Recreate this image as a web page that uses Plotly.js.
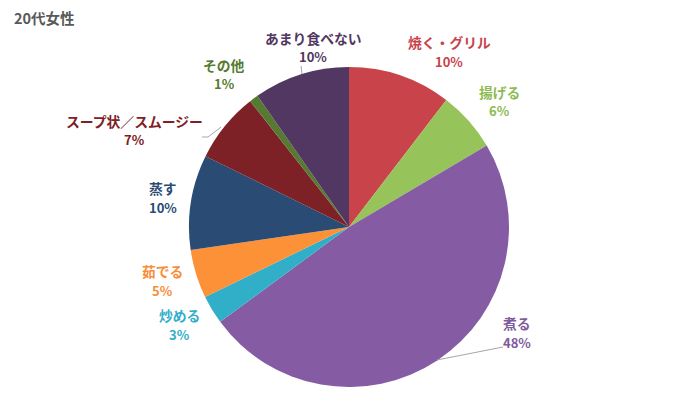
<!DOCTYPE html>
<html><head><meta charset="utf-8">
<script src="https://cdn.plot.ly/plotly-3.0.1.min.js"></script>
<style>body{margin:0;background:#fff}#c{width:700px;height:420px}</style>
</head><body><div id="c"></div>
<script>
const categories = ["焼く・グリル","揚げる","煮る","炒める","茹でる","蒸す","スープ状／スムージー","その他","あまり食べない"];
const values = [10.4, 6.1, 48.4, 2.9, 4.9, 9.6, 7.1, 0.9, 9.7];
const colors = ["#C9434A","#96C35A","#855CA3","#31AEC8","#FD9138","#294B74","#7D2126","#567A31","#523763"];
const labelColors = ["#C9434A","#8DBB52","#7E5A9E","#31AEC8","#F98C38","#294B74","#7D2126","#567A31","#523763"];
// label anchor positions (pixels from top-left, centre of the name line)
const labelPos = [[449,42],[499,92],[517,323],[180,315],[162,271],[163,188],[134,121],[224,65],[313,38]];

const W = 700, H = 420;
const total = values.reduce((a,b)=>a+b,0);
const fam = "'Noto Sans CJK JP', 'Noto Sans', sans-serif";
const annotations = [{
  text: "<b>20代女性</b>", x: 12/W, y: 1-18/H, xref:'paper', yref:'paper',
  xanchor:'left', yanchor:'middle', showarrow:false,
  font:{family:fam, size:14.5, color:'#595959'}
}];
categories.forEach((c,i)=>{
  const pct = Math.round(values[i]/total*100) + "%";
  annotations.push({
    text: "<b>"+c+"</b>", x: labelPos[i][0]/W, y: 1-labelPos[i][1]/H,
    xref:'paper', yref:'paper', xanchor:'center', yanchor:'middle', showarrow:false,
    font:{family:fam, size:13.8, color:labelColors[i]}
  });
  annotations.push({
    text: "<b>"+pct+"</b>", x: labelPos[i][0]/W, y: 1-(labelPos[i][1]+19)/H,
    xref:'paper', yref:'paper', xanchor:'center', yanchor:'middle', showarrow:false,
    font:{family:fam, size:13, color:labelColors[i]}
  });
});
const px = (x,y)=>({x:x/W, y:1-y/H});
function line(pts){
  let d = "";
  pts.forEach((p,i)=>{ const q = px(p[0],p[1]); d += (i?" L":"M") + q.x + "," + q.y; });
  return {type:'path', xref:'paper', yref:'paper', path:d, line:{color:'#A6A6A6', width:1}};
}
const shapes = [
  line([[437,360],[503,347]]),
  line([[202,137],[208,137],[221,127]]),
  line([[301,66],[302,74]])
];

const cx = 349, cy = 227, r = 160;
const data = [{
  type:'pie', labels:categories, values:values, sort:false, direction:'clockwise', rotation:0,
  marker:{colors:colors, line:{width:0}}, textinfo:'none', hoverinfo:'label+percent',
  domain:{x:[(cx-r)/W,(cx+r)/W], y:[1-(cy+r)/H, 1-(cy-r)/H]}
}];
const layout = {
  width:W, height:H, margin:{l:0,r:0,t:0,b:0}, showlegend:false,
  paper_bgcolor:'#fff', annotations:annotations, shapes:shapes
};
Plotly.newPlot('c', data, layout, {displayModeBar:false, staticPlot:true});
</script></body></html>
